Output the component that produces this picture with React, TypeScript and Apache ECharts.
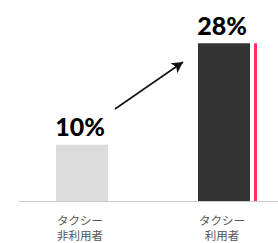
import React, { useEffect, useRef } from "react";
import * as echarts from "echarts";

const categories = ["タクシー\n非利用者", "タクシー\n利用者"];
const shareValues = [10, 28];
const accentValues: (number | null)[] = [null, 28];
const barColors = ["#dcdcdc", "#333333"];

export default function App() {
  const ref = useRef<HTMLDivElement>(null);
  useEffect(() => {
    if (!ref.current) return;
    const chart = echarts.init(ref.current, undefined, { renderer: "svg" });
    const gap = "7.69%";
    chart.setOption({
      animation: false,
      grid: { left: 19, width: 284, top: 32, height: 169, outerBoundsMode: "none", containLabel: false },
      xAxis: {
        type: "category",
        data: categories,
        axisLine: { show: true, lineStyle: { color: "#cccccc", width: 1 } },
        axisTick: { show: false },
        axisLabel: {
          color: "#555555",
          fontSize: 11.5,
          lineHeight: 15,
          margin: 11,
          padding: [0, 20, 0, 0],
          fontFamily: "Noto Sans CJK JP",
        },
      },
      yAxis: {
        type: "value",
        min: 0,
        max: 30,
        show: false,
        splitLine: { show: false },
      },
      series: [
        {
          type: "bar",
          barWidth: 52,
          barGap: gap,
          data: shareValues.map((v, i) => ({ value: v, itemStyle: { color: barColors[i] } })),
          label: {
            show: true,
            position: "top",
            distance: 6,
            offset: [-2, 0],
            formatter: "{c}%",
            color: "#000000",
            fontSize: 25,
            fontWeight: 900,
            fontFamily: "Lato",
          },
          markLine: {
            silent: true,
            symbol: ["none", "arrow"],
            symbolSize: [9, 11],
            label: { show: false },
            lineStyle: { color: "#111111", width: 1.6, type: "solid" },
            data: [[{ x: 115, y: 109 }, { x: 183, y: 62 }]],
          },
        },
        {
          type: "bar",
          barWidth: 3,
          barGap: gap,
          data: accentValues,
          itemStyle: { color: "#ff3355" },
        },
        {
          type: "bar",
          barWidth: 8.77,
          barGap: gap,
          data: [null, null],
          itemStyle: { color: "transparent" },
        },
      ],
    });
    return () => chart.dispose();
  }, []);
  return <div ref={ref} style={{ width: 278, height: 243, position: "absolute", left: 0, top: 0 }} />;
}
